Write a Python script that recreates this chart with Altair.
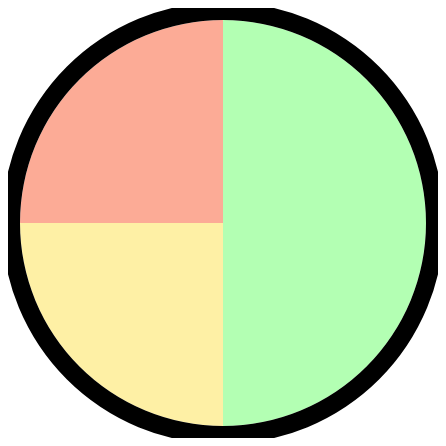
import altair as alt
import pandas as pd

categories = ["green", "yellow", "red"]
values = [2, 1, 1]
colors = ["#b3ffb3", "#fef0a5", "#fcab96"]

df = pd.DataFrame({"category": categories, "value": values, "order": [0, 1, 2]})

pie = alt.Chart(df).mark_arc(outerRadius=203, stroke=None).encode(
    theta=alt.Theta("value:Q", stack=True),
    order=alt.Order("order:Q"),
    color=alt.Color("category:N", scale=alt.Scale(domain=categories, range=colors), legend=None),
    x=alt.value(215),
    y=alt.value(215),
)

ring_df = pd.DataFrame({"v": [1]})
ring = alt.Chart(ring_df).mark_arc(
    innerRadius=203, outerRadius=221, color="black", theta=0, theta2=6.2832
).encode(
    x=alt.value(215),
    y=alt.value(215),
)

chart = (pie + ring).properties(
    width=430, height=430, padding=0, autosize=alt.AutoSizeParams(type="none")
).configure_view(stroke=None)

chart.save("out.html", embed_options={"renderer": "svg", "actions": False})
